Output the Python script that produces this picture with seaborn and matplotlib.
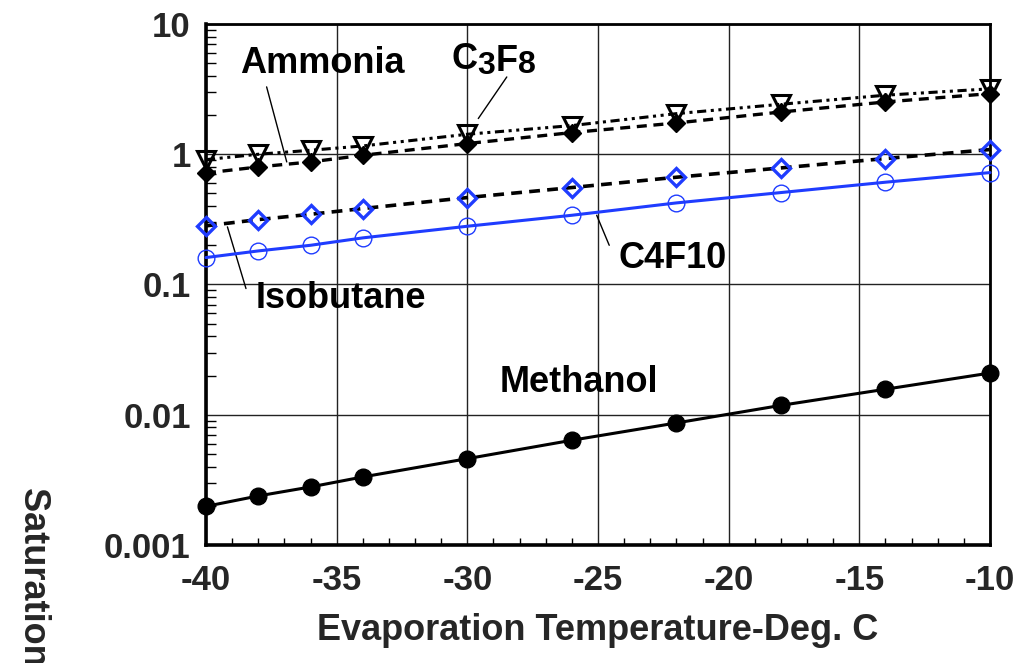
import numpy as np
import pandas as pd
import matplotlib
matplotlib.use("Agg")
import matplotlib.pyplot as plt
import seaborn as sns
from matplotlib.ticker import MultipleLocator, LogLocator, NullFormatter, FixedLocator

# data
temps = [-40, -38, -36, -34, -30, -26, -22, -18, -14, -10]
methanol = [0.00198, 0.00238, 0.00279, 0.00333, 0.0046, 0.00637, 0.00865, 0.0118, 0.0157, 0.0209]
c4f10 = [0.161, 0.181, 0.200, 0.228, 0.280, 0.340, 0.423, 0.508, 0.610, 0.723]
isobutane = [0.282, 0.315, 0.346, 0.383, 0.465, 0.555, 0.666, 0.785, 0.927, 1.087]
ammonia = [0.718, 0.799, 0.873, 0.982, 1.208, 1.467, 1.738, 2.11, 2.52, 2.92]
c3f8 = [0.909, 1.0, 1.073, 1.158, 1.424, 1.66, 2.05, 2.42, 2.84, 3.18]

x_ticks = [-40, -35, -30, -25, -20, -15, -10]
y_ticks = [0.001, 0.01, 0.1, 1, 10]
y_tick_labels = ["0.001", "0.01", "0.1", "1", "10"]

sns.set_style("white")
plt.rcParams["font.family"] = ["Liberation Sans", "DejaVu Sans"]
plt.rcParams["font.weight"] = "bold"

blue = "#1f3cff"

fig = plt.figure(figsize=(10.32, 6.63), dpi=100)
ax = fig.add_axes([0.1996, 0.178, 0.7597, 0.7858])

# Methanol
sns.lineplot(x=temps, y=methanol, ax=ax, color="black", lw=2.2, marker="o",
             markersize=12, markerfacecolor="black", markeredgecolor="black",
             markeredgewidth=1, zorder=5, clip_on=False)
# C4F10
sns.lineplot(x=temps, y=c4f10, ax=ax, color=blue, lw=2.2, marker="o",
             markersize=12, markerfacecolor="none", markeredgecolor=blue,
             markeredgewidth=1, zorder=5, clip_on=False)
# Isobutane
sns.lineplot(x=temps, y=isobutane, ax=ax, color="black", lw=2.6,
             linestyle=(0, (3, 2)), marker="D", markersize=9,
             markerfacecolor="none", markeredgecolor=blue,
             markeredgewidth=2.4, zorder=5, clip_on=False)
# Ammonia
sns.lineplot(x=temps, y=ammonia, ax=ax, color="black", lw=2.4,
             linestyle=(0, (3, 2)), marker="D", markersize=9.5,
             markerfacecolor="black", markeredgecolor="black",
             markeredgewidth=1, zorder=5, clip_on=False)
# C3F8
sns.lineplot(x=temps, y=c3f8, ax=ax, color="black", lw=2.2,
             linestyle=(0, (3, 1.5, 1, 1.5, 1, 1.5)), marker="v", markersize=13,
             markerfacecolor="none", markeredgecolor="black",
             markeredgewidth=2.2, zorder=5, clip_on=False)

ax.set_yscale("log")
ax.set_xlim(-40, -10)
ax.set_ylim(0.001, 10)

ax.xaxis.set_major_locator(FixedLocator(x_ticks))
ax.xaxis.set_minor_locator(MultipleLocator(1))
ax.yaxis.set_major_locator(FixedLocator(y_ticks))
ax.yaxis.set_minor_locator(LogLocator(base=10, subs=np.arange(2, 10)))
ax.yaxis.set_minor_formatter(NullFormatter())
ax.set_xticklabels([str(t) for t in x_ticks], fontsize=25, fontweight="bold")
ax.set_yticklabels(y_tick_labels, fontsize=25, fontweight="bold")

ax.grid(True, which="major", color="#222222", lw=1)
ax.tick_params(axis="both", which="both", direction="in", bottom=True, left=True,
               top=False, right=False)
ax.tick_params(axis="x", which="major", length=0, pad=14)
ax.tick_params(axis="y", which="major", length=0, pad=11)
ax.tick_params(axis="x", which="minor", length=5, width=1, color="black")
ax.tick_params(axis="y", which="minor", length=7, width=1, color="black")

for s in ["left", "bottom"]:
    ax.spines[s].set_linewidth(2.6)
for s in ["top", "right"]:
    ax.spines[s].set_linewidth(2)
for s in ax.spines.values():
    s.set_color("black")
    s.set_zorder(4)

ax.set_xlabel("Evaporation Temperature-Deg. C", fontsize=26, fontweight="bold",
              labelpad=11)
ax.set_ylabel("")
fig.text(0.032, 1 - 487 / 663, "Saturation Pressure-Bar", rotation=-90,
         va="top", ha="center", fontsize=26, fontweight="bold")

# labels and leader lines
lab = dict(fontsize=26, fontweight="bold", color="black", va="center", ha="left")
ax.text(-38.7, 5.0, "Ammonia", **lab)
ax.text(-24.23, 0.159, "C4F10", **lab)
ax.text(-38.1, 0.0784, "Isobutane", **lab)
ax.text(-28.75, 0.0178, "Methanol", **lab)
# C3F8 with lowered digits
ax.text(-30.62, 5.32, "C", **lab)
ax.text(-29.62, 4.74, "3", **dict(lab, fontsize=23))
ax.text(-28.92, 5.18, "F", **lab)
ax.text(-28.05, 4.82, "8", **dict(lab, fontsize=23))

ax.plot([-37.68, -36.91], [3.29, 0.873], color="black", lw=1, zorder=2)
ax.plot([-28.49, -29.58], [3.92, 1.88], color="black", lw=1, zorder=2)
ax.plot([-39.18, -38.47], [0.277, 0.0931], color="black", lw=1, zorder=2)
ax.plot([-25.05, -24.57], [0.340, 0.200], color="black", lw=1, zorder=2)

fig.savefig("out.png", dpi=100)
